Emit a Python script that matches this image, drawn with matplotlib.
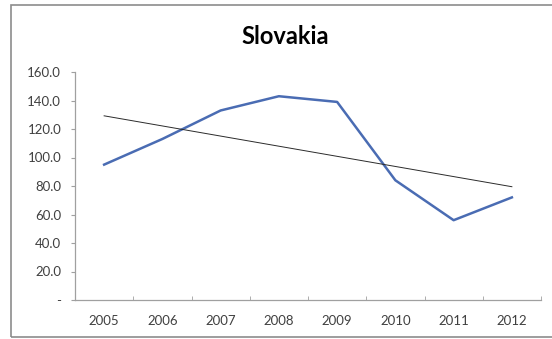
import numpy as np
import matplotlib
matplotlib.use("Agg")
import matplotlib.pyplot as plt
from matplotlib.patches import Rectangle
from matplotlib.ticker import FuncFormatter

years = ["2005", "2006", "2007", "2008", "2009", "2010", "2011", "2012"]
values = [95, 113, 133, 143, 139, 84, 56, 72]

x = np.arange(len(years))
slope, intercept = np.polyfit(x, values, 1)
trend = slope * x + intercept

plt.rcParams['font.family'] = ['Lato', 'DejaVu Sans']

fig = plt.figure(figsize=(5.52, 3.39), dpi=100)
fig.add_artist(Rectangle((11 / 552, 2 / 339), 1.2, 332 / 339, transform=fig.transFigure,
                         fill=False, edgecolor="#8c8c8c", linewidth=1.2))

ax = fig.add_axes([75 / 552, 39 / 339, 466 / 552, 228 / 339])
ax.plot(x, values, color="#4a6cb3", linewidth=1.8)
ax.plot(x, trend, color="#2b2b2b", linewidth=0.7)

ax.set_xlim(-0.5, len(years) - 0.5)
ax.set_ylim(0, 160)
ax.set_yticks(np.arange(0, 161, 20))
ax.yaxis.set_major_formatter(FuncFormatter(lambda v, p: "-" if v == 0 else f"{v:.1f}"))
ax.set_xticks(x)
ax.set_xticklabels(years)
ax.set_xticks(np.arange(-0.5, len(years)), minor=True)
ax.tick_params(axis="x", which="major", length=0, pad=11, labelsize=9.5, labelcolor="#404040")
ax.tick_params(axis="x", which="minor", direction="in", length=3, color="#a0a0a0")
ax.tick_params(axis="y", length=3, color="#a0a0a0", labelsize=9.5, labelcolor="#404040", pad=7)

for side in ["top", "right"]:
    ax.spines[side].set_visible(False)
for side in ["left", "bottom"]:
    ax.spines[side].set_color("#a0a0a0")
    ax.spines[side].set_linewidth(0.9)

fig.text(285 / 552, 1 - 36 / 339, "Slovakia", ha="center", va="center",
         fontsize=17, fontweight="bold", color="#000000")

fig.savefig("out.png", dpi=100)
